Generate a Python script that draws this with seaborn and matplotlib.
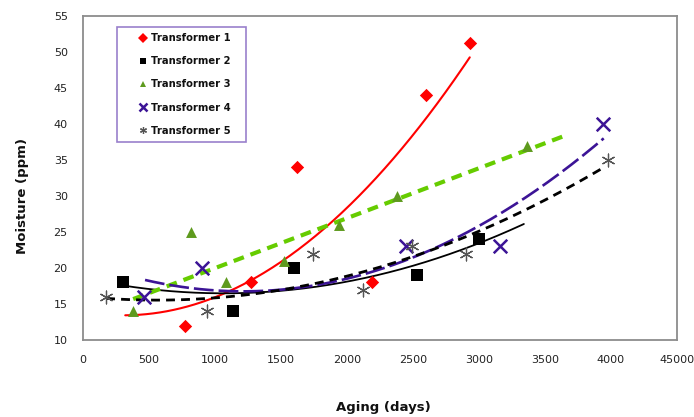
import numpy as np
import pandas as pd
import matplotlib
matplotlib.use("Agg")
import matplotlib.pyplot as plt
import seaborn as sns
from matplotlib.lines import Line2D
from matplotlib.patches import Rectangle

# Moisture measurements (ppm) against aging time (days) for five transformers
t1_days = [770, 1270, 1620, 2190, 2600, 2930]
t1_ppm = [12, 18, 34, 18, 44, 51.2]

t2_days = [300, 1140, 1600, 2530, 3000]
t2_ppm = [18, 14, 20, 19, 24]

t3_days = [380, 820, 1085, 1520, 1940, 2380, 3360]
t3_ppm = [14, 25, 18, 21, 26, 30, 37]

t4_days = [460, 900, 2450, 3160, 3940]
t4_ppm = [16, 20, 23, 23, 40]

t5_days = [175, 940, 1745, 2120, 2490, 2900, 3980]
t5_ppm = [16, 14, 22, 17, 23, 22, 35]

names = ["Transformer 1", "Transformer 2", "Transformer 3", "Transformer 4", "Transformer 5"]
# trend line: polynomial order and the day span it covers
fit_order = [2, 2, 1, 2, 2]
fit_start = [320, 300, 380, 470, 175]
fit_end = [2930, 3340, 3640, 3945, 3935]

x_ticks = [0, 500, 1000, 1500, 2000, 2500, 3000, 3500, 4000, 4500]
x_tick_labels = ["0", "500", "1000", "1500", "2000", "2500", "3000", "3500", "4000", "45000"]
y_ticks = [10, 15, 20, 25, 30, 35, 40, 45, 50, 55]

days = [t1_days, t2_days, t3_days, t4_days, t5_days]
ppm = [t1_ppm, t2_ppm, t3_ppm, t4_ppm, t5_ppm]

df = pd.concat(
    [pd.DataFrame({"days": d, "ppm": p, "unit": n}) for d, p, n in zip(days, ppm, names)],
    ignore_index=True,
)

sns.set_theme(style="white")
plt.rcParams["font.family"] = ["DejaVu Sans"]

fig = plt.figure(figsize=(6.94, 4.17), dpi=100)
ax = fig.add_axes([0.1196, 0.1847, 0.8559, 0.7769])

marker_style = {
    "Transformer 1": dict(marker="D", color="#FF0000", s=46, linewidth=0),
    "Transformer 2": dict(marker="s", color="#000000", s=70, linewidth=0),
    "Transformer 3": dict(marker="^", color="#5E9A1E", s=62, linewidth=0),
    "Transformer 4": dict(marker="x", color="#3C1496", s=95, linewidth=1.8),
    "Transformer 5": dict(marker=(6, 2, 0), color="#555555", s=85, linewidth=0.9),
}
line_style = {
    "Transformer 1": dict(color="#FF0000", linewidth=1.5, dashes=None),
    "Transformer 2": dict(color="#000000", linewidth=1.3, dashes=None),
    "Transformer 3": dict(color="#66CC00", linewidth=3.0, dashes=(2.6, 1.7)),
    "Transformer 4": dict(color="#3C1496", linewidth=1.9, dashes=(7.5, 1.9)),
    "Transformer 5": dict(color="#000000", linewidth=2.0, dashes=(3.2, 2.2)),
}

# fitted trend lines
for name, order, x0, x1 in zip(names, fit_order, fit_start, fit_end):
    sub = df[df["unit"] == name]
    coef = np.polyfit(sub["days"], sub["ppm"], order)
    xs = np.linspace(x0, x1, 200)
    trend = pd.DataFrame({"days": xs, "ppm": np.polyval(coef, xs)})
    st = line_style[name]
    sns.lineplot(data=trend, x="days", y="ppm", ax=ax, color=st["color"],
                 linewidth=st["linewidth"], zorder=2)
    if st["dashes"] is not None:
        ax.get_lines()[-1].set_dashes(st["dashes"])

# measured points
for name in names:
    sub = df[df["unit"] == name]
    st = marker_style[name]
    sns.scatterplot(data=sub, x="days", y="ppm", ax=ax, marker=st["marker"],
                    color=st["color"], s=st["s"], linewidth=st["linewidth"],
                    edgecolor=st["color"], zorder=3, legend=False)

ax.set_xlim(0, 4500)
ax.set_ylim(10, 55)
ax.set_xticks(x_ticks)
ax.set_xticklabels(x_tick_labels)
ax.set_yticks(y_ticks)
ax.tick_params(axis="both", length=0, labelsize=8, colors="#222222")
ax.tick_params(axis="x", pad=11)
ax.tick_params(axis="y", pad=11)
ax.set_xlabel("")
ax.set_ylabel("")
for sp in ax.spines.values():
    sp.set_visible(True)
    sp.set_color("#8C8C8C")
    sp.set_linewidth(1.3)

fig.text(0.552, 0.0216, "Aging (days)", ha="center", va="center",
         fontsize=9.5, fontweight="bold", color="#111111")
fig.text(0.032, 0.53, "Moisture (ppm)", ha="center", va="center", rotation=90,
         fontsize=9.5, fontweight="bold", color="#111111")

handles = []
for name in names:
    st = marker_style[name]
    handles.append(Line2D([], [], linestyle="none", marker=st["marker"],
                          color=st["color"], markeredgecolor=st["color"],
                          markersize=5 if name != "Transformer 4" else 6,
                          markeredgewidth=1.8 if name == "Transformer 4" else (0.9 if name == "Transformer 5" else 0)))
leg = ax.legend(handles, names, loc="upper left", bbox_to_anchor=(0.085, 0.966),
                borderaxespad=0, frameon=False, prop={"weight": "bold", "size": 7.2},
                labelspacing=1.32, handlelength=0.8, handletextpad=0.35, borderpad=0.6)
for txt in leg.get_texts():
    txt.set_color("#111111")

# legend border box
ax.add_patch(Rectangle((0.0572, 0.611), 0.2172, 0.355, transform=ax.transAxes,
                       fill=False, edgecolor="#9A80CC", linewidth=1.2, zorder=5))

fig.savefig("out.png", dpi=100)
